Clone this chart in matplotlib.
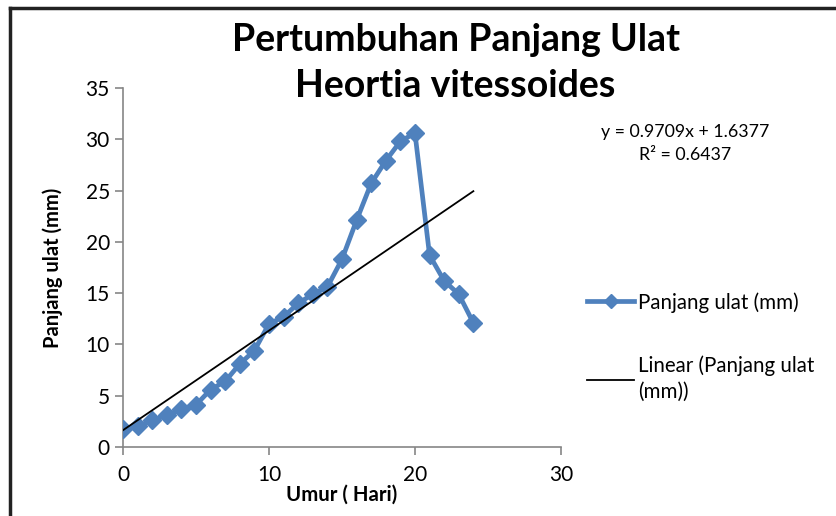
import numpy as np
import matplotlib.pyplot as plt
from matplotlib.lines import Line2D

plt.rcParams['font.family'] = ['Lato', 'DejaVu Sans']

# data
umur = [0, 1, 2, 3, 4, 5, 6, 7, 8, 9, 10, 11, 12, 13, 14, 15, 16, 17, 18, 19, 20, 21, 22, 23, 24]
panjang = [1.8, 2.0, 2.6, 3.1, 3.7, 4.1, 5.6, 6.4, 8.1, 9.4, 12.0, 12.7, 14.0, 14.9, 15.6,
           18.3, 22.1, 25.7, 27.9, 29.8, 30.6, 18.7, 16.2, 14.9, 12.1]
slope = 0.9709
intercept = 1.6377
r2 = 0.6437

blue = '#4F81BD'
grey = '#868686'

fig = plt.figure(figsize=(8.36, 5.16), dpi=100)
ax = fig.add_axes([0.1471, 0.1337, 0.5239, 0.6958])

# main series
ax.plot(umur, panjang, color=blue, lw=3.4, marker='D', ms=9.5, mec=blue, mfc=blue,
        solid_joinstyle='round', zorder=3)

# linear trendline
xt = np.array([umur[0], umur[-1]])
ax.plot(xt, slope * xt + intercept, color='black', lw=1.3, zorder=4)

ax.set_xlim(0, 30)
ax.set_ylim(0, 35)
ax.set_xticks([0, 10, 20, 30])
ax.set_yticks(range(0, 36, 5))
for s in ['top', 'right']:
    ax.spines[s].set_visible(False)
for s in ['left', 'bottom']:
    ax.spines[s].set_color(grey)
    ax.spines[s].set_linewidth(1.2)
ax.tick_params(colors=grey, length=6, width=1.2, labelcolor='black', labelsize=15)
ax.tick_params(axis='x', pad=7)

ax.set_xlabel('Umur ( Hari)', fontsize=14.7, fontweight='bold', labelpad=0)
ax.set_ylabel('Panjang ulat (mm)', fontsize=14.5, fontweight='bold', labelpad=16)

fig.text(0.545, 0.955, 'Pertumbuhan Panjang Ulat\nHeortia vitessoides', ha='center', va='top',
         fontsize=27, fontweight='bold', linespacing=1.42)

fig.text(0.82, 0.722, 'y = 0.9709x + 1.6377\nR² = 0.6437', ha='center', va='center',
         fontsize=12.8, linespacing=1.5)

handles = [Line2D([], [], color=blue, lw=3.4, marker='D', ms=7.5, mec=blue, mfc=blue),
           Line2D([], [], color='black', lw=1.3)]
leg = fig.legend(handles, ['Panjang ulat (mm)', 'Linear (Panjang ulat\n(mm))'],
                 loc='upper left', bbox_to_anchor=(0.68, 0.47), frameon=False,
                 fontsize=14.8, handlelength=2.3, handletextpad=0.2, labelspacing=2.1)
for t in leg.get_texts():
    t.set_linespacing(1.35)

# partial frame border (top and left) as in the screenshot
fig.add_artist(Line2D([0.012, 1.0], [0.984, 0.984], transform=fig.transFigure,
                      color='#222222', lw=2.5))
fig.add_artist(Line2D([0.012, 0.012], [0.0, 0.984], transform=fig.transFigure,
                      color='#222222', lw=2.5))

fig.savefig('out.png', dpi=100)
